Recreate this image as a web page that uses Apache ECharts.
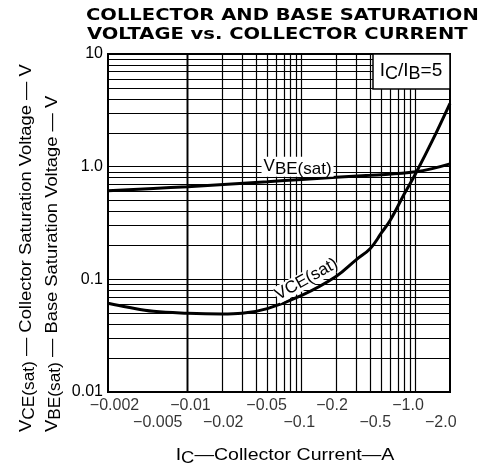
<!DOCTYPE html>
<html>
<head>
<meta charset="utf-8">
<script src="https://cdn.jsdelivr.net/npm/echarts@6/dist/echarts.min.js"></script>
<style>
  html, body { margin: 0; padding: 0; background: #fff; }
  #chart { width: 496px; height: 469px; }
</style>
</head>
<body>
<div id="chart"></div>
<script>
// collector current magnitude (A)
const vbeCurrent = [0.002, 0.005, 0.01, 0.05, 0.1, 0.4, 1.0, 2.0];
const vbeSat = [0.61, 0.64, 0.665, 0.735, 0.77, 0.84, 0.90, 1.06];

const vceCurrent = [0.002, 0.003, 0.005, 0.01, 0.02, 0.03, 0.05, 0.1, 0.2, 0.3, 0.4, 0.5, 0.6, 0.8, 1.0, 1.4, 2.0];
const vceSat = [0.0614, 0.0565, 0.052, 0.050, 0.0493, 0.050, 0.055, 0.072, 0.106, 0.149, 0.188, 0.258, 0.336, 0.58, 0.87, 1.7, 3.65];

// tick labels (two staggered rows on the x axis)
const xTicksRow1 = [0.002, 0.01, 0.05, 0.2, 1.0];
const xLabelsRow1 = ["−0.002", "−0.01", "−0.05", "−0.2", "−1.0"];
const xTicksRow2 = [0.005, 0.02, 0.1, 0.5, 2.0];
const xLabelsRow2 = ["−0.005", "−0.02", "−0.1", "−0.5", "−2.0"];
const yTicks = [0.01, 0.1, 1, 10];
const yLabels = ["0.01", "0.1", "1.0", "10"];

// log grid lines (1..9 per decade)
const gridX = [];
for (const d of [0.001, 0.01, 0.1, 1]) {
    for (let k = 1; k <= 9; k++) {
        const v = +(k * d).toPrecision(3);
        if (v > 0.002 && v < 2) gridX.push(v);
    }
}
const gridY = [];
for (const d of [0.01, 0.1, 1]) {
    for (let k = 1; k <= 9; k++) {
        const v = +(k * d).toPrecision(3);
        if (v > 0.01 && v < 10) gridY.push(v);
    }
}

const FONT = "Liberation Sans, Arial, sans-serif";
const PLOT_W = 342;

// the printed labels sit on a slightly narrower scale than the grid
const labelShift = (v) => {
    const px = (Math.log10(v / 0.002) / 3) * PLOT_W;
    return 6.5 - 0.046 * px;
};

const sub = (size, mainSize) => ({
    m: { fontSize: mainSize, fontFamily: FONT, lineHeight: 22, color: "#000" },
    s: { fontSize: size, fontFamily: FONT, lineHeight: 22, padding: [7, 0, 0, 0], color: "#000" },
});

const chart = echarts.init(document.getElementById("chart"), null, { renderer: "canvas" });

const option = {
    animation: false,
    backgroundColor: "#fff",
    grid: {
        left: 108,
        top: 54,
        right: 46,
        bottom: 77,
        show: true,
        borderColor: "#000",
        borderWidth: 2,
        backgroundColor: "transparent",
    },
    xAxis: {
        type: "log",
        logBase: 10,
        min: 0.002,
        max: 2,
        axisLine: { show: false },
        axisTick: { show: false },
        axisLabel: { show: false },
        splitLine: { show: false },
    },
    yAxis: {
        type: "log",
        logBase: 10,
        min: 0.01,
        max: 10,
        axisLine: { show: false },
        axisTick: { show: false },
        splitLine: { show: false },
        axisLabel: {
            margin: 5,
            color: "#000",
            fontSize: 16,
            fontFamily: FONT,
            formatter: (v) => {
                const i = yTicks.findIndex((t) => Math.abs(t - v) / t < 1e-6);
                return i >= 0 ? yLabels[i] : "";
            },
        },
    },
    graphic: [
        {
            type: "text",
            x: 86,
            y: 16,
            scaleX: 1.22,
            style: {
                text: "COLLECTOR AND BASE SATURATION",
                font: "bold 16px 'DejaVu Sans'",
                fill: "#000",
                align: "left",
                verticalAlign: "middle",
            },
        },
        {
            type: "text",
            x: 87,
            y: 35,
            scaleX: 1.22,
            style: {
                text: "VOLTAGE vs. COLLECTOR CURRENT",
                font: "bold 16px 'DejaVu Sans'",
                fill: "#000",
                align: "left",
                verticalAlign: "middle",
            },
        },
        {
            type: "text",
            x: 26,
            y: 432,
            rotation: Math.PI / 2,
            scaleX: 1.08,
            style: {
                text: "{m|V}{s|CE(sat)}{m| — Collector Saturation Voltage — V}",
                align: "left",
                verticalAlign: "middle",
                rich: sub(16, 17),
            },
        },
        {
            type: "text",
            x: 52,
            y: 432,
            rotation: Math.PI / 2,
            scaleX: 1.08,
            style: {
                text: "{m|V}{s|BE(sat)}{m| — Base Saturation Voltage — V}",
                align: "left",
                verticalAlign: "middle",
                rich: sub(16, 17),
            },
        },
        {
            type: "text",
            x: 285,
            y: 455,
            scaleX: 1.15,
            style: {
                text: "{m|I}{s|C}{m|—Collector Current—A}",
                align: "center",
                verticalAlign: "middle",
                rich: sub(16, 17),
            },
        },
        {
            type: "rect",
            z: 50,
            shape: { x: 373, y: 54, width: 77, height: 35 },
            style: { fill: "#fff", stroke: "#000", lineWidth: 1.5 },
        },
        {
            type: "text",
            z: 51,
            x: 411,
            y: 71,
            style: {
                text: "{m|I}{s|C}{m|/I}{s|B}{m|=5}",
                align: "center",
                verticalAlign: "middle",
                rich: sub(18, 19),
            },
        },
    ],
    series: [
        {
            name: "grid",
            type: "line",
            data: [],
            silent: true,
            z: 1,
            markLine: {
                silent: true,
                symbol: "none",
                animation: false,
                label: { show: false },
                lineStyle: { color: "#000", width: 1.2, type: "solid" },
                data: [
                    ...gridX.map((v) => ({ xAxis: v })),
                    ...gridY.map((v) => ({ yAxis: v })),
                ],
            },
        },
        {
            name: "VBE(sat)",
            type: "line",
            z: 5,
            data: vbeCurrent.map((x, i) => [x, vbeSat[i]]),
            showSymbol: false,
            smooth: 0.4,
            lineStyle: { color: "#000", width: 3 },
            markPoint: {
                symbolSize: 0,
                z: 6,
                data: [{ coord: [0.092, 1.0] }],
                label: {
                    show: true,
                    position: "inside",
                    formatter: "{m|V}{s|BE(sat)}",
                    backgroundColor: "#fff",
                    padding: [0, 2, 0, 2],
                    rich: {
                        m: { fontSize: 17, fontFamily: FONT, color: "#000", lineHeight: 20 },
                        s: { fontSize: 17, fontFamily: FONT, color: "#000", lineHeight: 20, padding: [6, 0, 0, 0] },
                    },
                },
            },
        },
        {
            name: "VCE(sat)",
            type: "line",
            z: 5,
            data: vceCurrent.map((x, i) => [x, vceSat[i]]),
            showSymbol: false,
            smooth: 0.4,
            lineStyle: { color: "#000", width: 3 },
            markPoint: {
                symbolSize: 0,
                z: 6,
                data: [{ coord: [0.11, 0.1] }],
                label: {
                    show: true,
                    position: "inside",
                    rotate: 29,
                    formatter: "VCE(sat)",
                    color: "#000",
                    fontSize: 17,
                    fontFamily: FONT,
                    backgroundColor: "#fff",
                },
            },
        },
        {
            name: "xlabels1",
            type: "scatter",
            silent: true,
            clip: false,
            symbolSize: 0,
            data: xTicksRow1.map((x, i) => ({
                value: [x, 0.01],
                name: xLabelsRow1[i],
                label: { offset: [labelShift(x), 0] },
            })),
            label: {
                show: true,
                position: "bottom",
                distance: 6,
                formatter: (p) => p.name,
                color: "#000",
                fontSize: 16,
                fontFamily: FONT,
            },
        },
        {
            name: "xlabels2",
            type: "scatter",
            silent: true,
            clip: false,
            symbolSize: 0,
            data: xTicksRow2.map((x, i) => ({
                value: [x, 0.01],
                name: xLabelsRow2[i],
                label: { offset: [labelShift(x), 0] },
            })),
            label: {
                show: true,
                position: "bottom",
                distance: 23,
                formatter: (p) => p.name,
                color: "#000",
                fontSize: 16,
                fontFamily: FONT,
            },
        },
    ],
};

chart.setOption(option);
</script>
</body>
</html>
